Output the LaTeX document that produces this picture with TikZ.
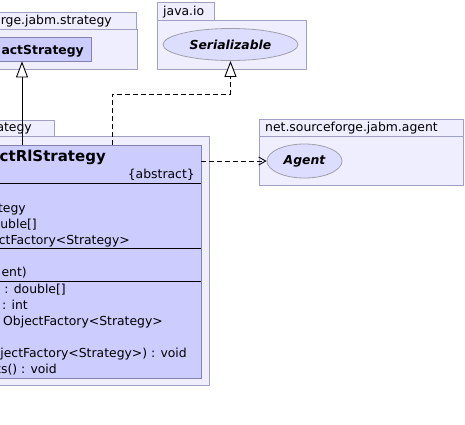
\documentclass[tikz,border=0pt]{standalone}
\usepackage{fontspec}
\setmainfont{DejaVu Sans}
\usepackage{xcolor}
\usetikzlibrary{calc}
\usetikzlibrary{positioning}
\usetikzlibrary{shapes.geometric}
\usetikzlibrary{arrows.meta}

\definecolor{pkgfill}{RGB}{238,238,255}
\definecolor{pkgline}{RGB}{160,160,196}
\definecolor{clsfill}{RGB}{204,204,255}
\definecolor{clsline}{RGB}{130,130,176}
\definecolor{ifcfill}{RGB}{221,221,255}
\definecolor{ifcline}{RGB}{160,160,170}

\begin{document}
\begin{tikzpicture}[x=1pt, y=-1pt,
    pkgbox/.style={rectangle, draw=pkgline, fill=pkgfill, inner sep=0pt, line width=0.8pt},
    clsbox/.style={rectangle, draw=clsline, fill=clsfill, inner sep=0pt, line width=0.8pt},
    ifcbox/.style={ellipse, draw=ifcline, fill=ifcfill, inner sep=0pt, line width=0.8pt},
    txt/.style={inner sep=0pt, font=\fontsize{12.4}{14}\selectfont},
    boldtxt/.style={txt, font=\fontsize{12.4}{14}\selectfont\bfseries},
    itxt/.style={txt, font=\fontsize{12.4}{14}\selectfont\bfseries\itshape},
    sepline/.style={line width=0.9pt},
    realize/.style={line width=0.9pt, -{Triangle[open, fill=white, length=16pt, width=12pt]}},
    depend/.style={line width=0.9pt, dash pattern=on 5pt off 3pt, -{Straight Barb[length=7pt, width=8pt]}}]
    \useasboundingbox (0,0) rectangle (465,424);

    % package strategy, top left
    \node [pkgbox, minimum width=197, minimum height=17] (strtab) at (38,20.5) {};
    \node [pkgbox, minimum width=198, minimum height=40] (strbody) at (38.5,49) {};
    \node [txt, anchor=base east] at (112,24) {orge.jabm.strategy};
    \node [clsbox, minimum width=151, minimum height=24] (abscls) at (15.5,49) {};
    \node [boldtxt, anchor=base east] at (84,54) {actStrategy};

    % package java.io
    \node [pkgbox, minimum width=57, minimum height=18] (iotab) at (185.5,11) {};
    \node [pkgbox, minimum width=149, minimum height=49] (iobody) at (231.5,44.5) {};
    \node [txt, anchor=base west] at (163,15) {java.io};
    \node [ifcbox, minimum width=135, minimum height=32] (serial) at (230.5,44.5) {};
    \node [itxt] at (serial) {Serializable};

    % package agent
    \node [pkgbox, minimum width=204, minimum height=17] (agtab) at (361,127.5) {};
    \node [pkgbox, minimum width=204, minimum height=49] (agbody) at (361,160.5) {};
    \node [txt, anchor=base west] at (265,131) {net.sourceforge.jabm.agent};
    \node [ifcbox, minimum width=75, minimum height=34] (agent) at (304.5,161) {};
    \node [itxt] at (agent) {Agent};

    % package strategy, main class
    \node [pkgbox, minimum width=114, minimum height=16] (rltab) at (-3,128) {};
    \node [pkgbox, minimum width=269, minimum height=249] (rlbody) at (74.5,260.5) {};
    \node [txt, anchor=base east] at (32,131) {ategy};
    \node [clsbox, minimum width=261, minimum height=233] (rlcls) at (70.5,261.5) {};
    \draw [sepline] (rlcls.west |- 0,183) -- (rlcls.east |- 0,183);
    \draw [sepline] (rlcls.west |- 0,248) -- (rlcls.east |- 0,248);
    \draw [sepline] (rlcls.west |- 0,281) -- (rlcls.east |- 0,281);

    \node [boldtxt, font=\fontsize{15}{17}\selectfont\bfseries, anchor=base east] at (106,161) {ctRlStrategy};
    \node [txt, anchor=base east] at (195,178) {\{abstract\}};
    \node [txt, anchor=base east] at (26,212) {tegy};
    \node [txt, anchor=base east] at (37,228) {uble[]};
    \node [txt, anchor=base east] at (130,244) {ctFactory<Strategy>};
    \node [txt, anchor=base east] at (27,276) {ent)};
    \node [txt, anchor=base east] at (66,293) {() : double[]};
    \node [txt, anchor=base east] at (28,309) {: int};
    \node [txt, anchor=base east] at (163,325) {ObjectFactory<Strategy>};
    \node [txt, anchor=base east] at (187,357) {jectFactory<Strategy>) : void};
    \node [txt, anchor=base east] at (57,373) {ts() : void};

    % connectors
    \coordinate (genx) at (22,0);
    \coordinate (impx) at (112,0);
    \coordinate (impy) at (0,94);
    \draw [realize] (genx |- rlcls.north) -- (genx |- abscls.south);
    \draw [realize, dash pattern=on 5pt off 3pt] (impx |- rlcls.north) -- (impx |- impy) -- (serial.south |- impy) -- (serial.south);
    \draw [depend] (rlcls.east |- agent.west) -- (agent.west);
\end{tikzpicture}
\end{document}
